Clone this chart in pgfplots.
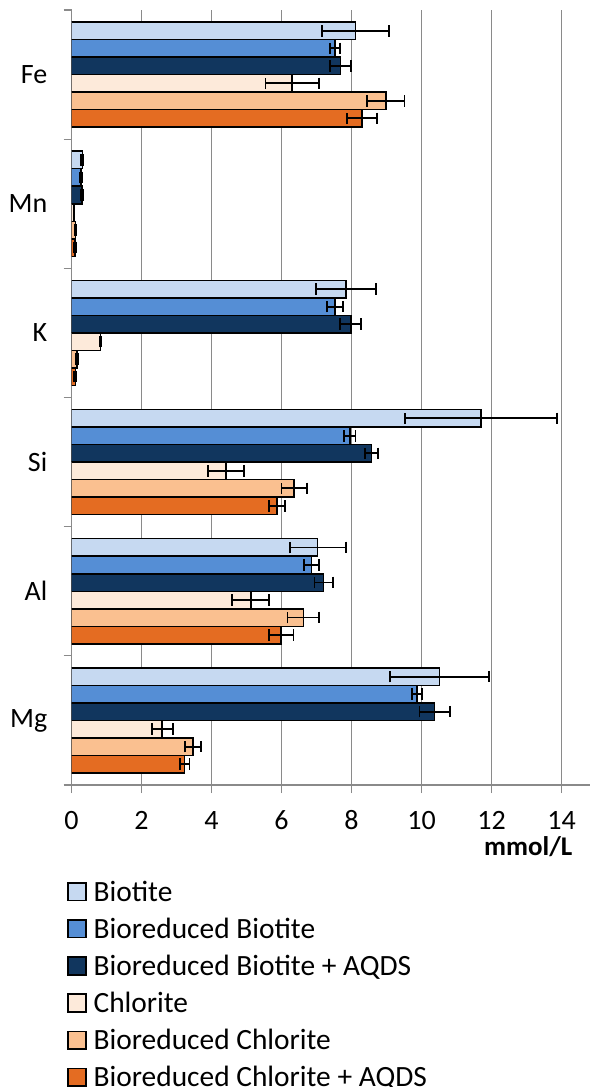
\documentclass[border=0pt]{standalone}
\usepackage{pgfplots}
\usepackage{pgfplotstable}
\pgfplotsset{compat=1.18}
\usepackage{fontspec}
\setmainfont{Carlito}
\definecolor{cB}{HTML}{C6D9F1}
\definecolor{cBB}{HTML}{558ED5}
\definecolor{cBBA}{HTML}{11365E}
\definecolor{cC}{HTML}{FDEADA}
\definecolor{cBC}{HTML}{FAC090}
\definecolor{cBCA}{HTML}{E46C22}
\definecolor{gridgray}{HTML}{8A8A8A}
\pgfplotstableread{
y  b     be   bb   bbe  bba   bbae c    ce   bc   bce  bca  bcae
0  8.11  0.96 7.52 0.14 7.69  0.30 6.30 0.76 8.98 0.53 8.30 0.42
1  0.31  0.03 0.27 0.02 0.30  0.02 0.07 0.01 0.11 0.02 0.10 0.02
2  7.84  0.85 7.53 0.23 7.98  0.30 0.83 0.01 0.16 0.04 0.11 0.03
3  11.69 2.17 7.95 0.16 8.57  0.19 4.41 0.52 6.36 0.36 5.87 0.23
4  7.03  0.80 6.85 0.22 7.20  0.26 5.12 0.53 6.62 0.45 5.99 0.35
5  10.51 1.42 9.87 0.15 10.37 0.43 2.59 0.30 3.47 0.22 3.23 0.14
}\data
\begin{document}
\begin{tikzpicture}
\useasboundingbox (0,0) rectangle (295pt,543.5pt);
\begin{axis}[
  at={(35.75pt,151pt)}, anchor=south west,
  scale only axis, width=259.25pt, height=387.5pt,
  xmin=0, xmax=14.81, ymin=-0.5, ymax=5.5,
  y dir=reverse,
  axis x line*=bottom, axis y line*=left,
  axis line style={gridgray, line width=0.65pt},
  tick align=outside, major tick length=4pt,
  tick style={gridgray, line width=0.65pt},
  xtick={0,2,...,14},
  xmajorgrids, grid style={gridgray, line width=0.65pt},
  ytick={-0.5,0.5,...,5.5},
  y tick label as interval,
  yticklabels={Fe,Mn,K,Si,Al,Mg},
  /pgf/number format/assume math mode=true,
  tick label style={font=\fontsize{14}{16}\selectfont},
  xticklabel style={text height=10pt, text depth=0pt, inner sep=0pt, yshift=-8pt},
  yticklabel style={xshift=-4.6pt},
  xlabel={mmol/L},
  xlabel style={at={(axis description cs:0.9666,0)}, anchor=base east, inner sep=0pt, yshift=-35pt, font=\bfseries\fontsize{13.5}{16}\selectfont},
  xbar, bar width=0.1355,
  legend style={draw=none, fill=none, inner sep=0pt, outer sep=0pt,
    at={(axis description cs:-0.0081,-0.1239)}, anchor=north west,
    row sep=5.55pt, column sep=3.3pt,
    font=\fontsize{14.7}{16}\selectfont,
    nodes={text height=10pt, text depth=3pt, inner sep=0pt}},
  legend cell align=left,
  every axis plot/.append style={draw=black, line width=0.75pt,
    legend image code/.code={\draw[##1, line width=0.75pt] (0pt,-3.28pt) rectangle (9.1pt,5.57pt);},
    error bars/x dir=both, error bars/x explicit,
    error bars/error bar style={black, line width=0.9pt},
    error bars/error mark options={black, line width=0.9pt, mark size=2.9pt, rotate=90}},
]
\addplot[fill=cB, bar shift=-0.3388] table[x=b, y=y, x error=be] {\data};
\addplot[fill=cBB, bar shift=-0.2033] table[x=bb, y=y, x error=bbe] {\data};
\addplot[fill=cBBA, bar shift=-0.0678] table[x=bba, y=y, x error=bbae] {\data};
\addplot[fill=cC, bar shift=0.0678] table[x=c, y=y, x error=ce] {\data};
\addplot[fill=cBC, bar shift=0.2033] table[x=bc, y=y, x error=bce] {\data};
\addplot[fill=cBCA, bar shift=0.3388] table[x=bca, y=y, x error=bcae] {\data};
\legend{Biotite, Bioreduced Biotite, Bioreduced Biotite + AQDS, Chlorite, Bioreduced Chlorite, Bioreduced Chlorite + AQDS}
\end{axis}
\end{tikzpicture}
\end{document}
